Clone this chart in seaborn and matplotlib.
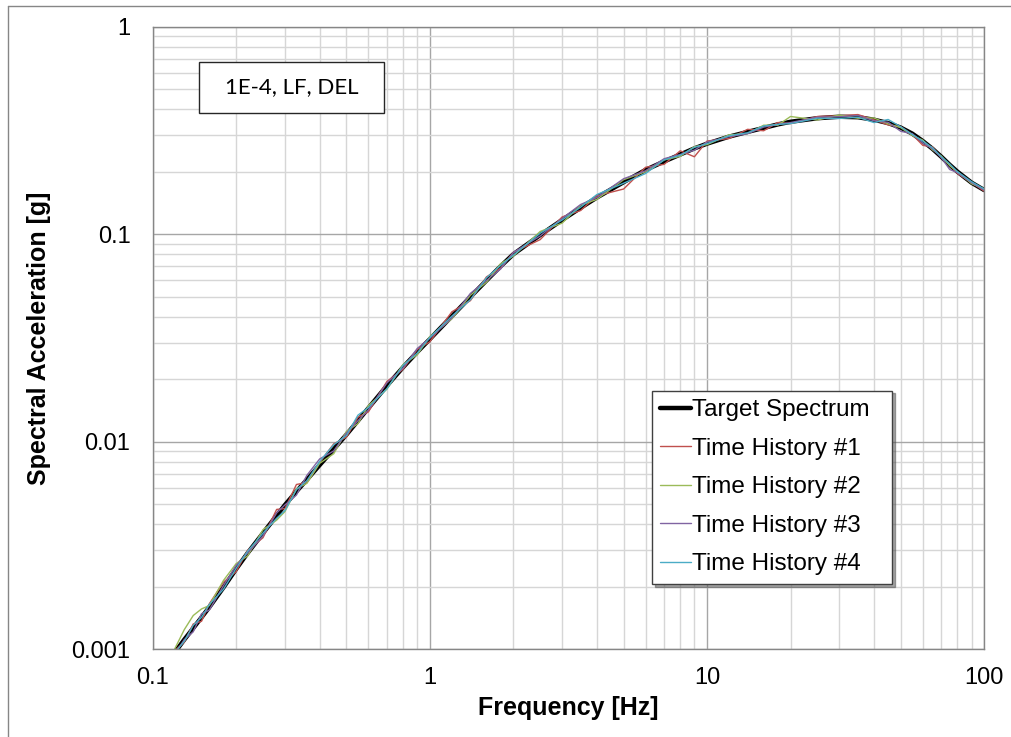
import matplotlib
matplotlib.use("Agg")
import matplotlib.pyplot as plt
import seaborn as sns
from matplotlib.lines import Line2D
from matplotlib.patches import Rectangle
from matplotlib.ticker import LogLocator, NullFormatter

# Response spectra (5% damped), frequency in Hz, spectral acceleration in g
freq = [0.12, 0.13, 0.14, 0.15, 0.16, 0.18, 0.20, 0.22, 0.25, 0.28,
        0.30, 0.33, 0.36, 0.40, 0.45, 0.50, 0.55, 0.60, 0.70, 0.80,
        0.90, 1.0, 1.2, 1.4, 1.6, 1.8, 2.0, 2.5, 3.0, 3.5,
        4.0, 5.0, 6.0, 7.0, 8.0, 9.0, 10, 12, 14, 16,
        18, 20, 25, 30, 35, 40, 45, 50, 55, 60,
        65, 70, 75, 80, 90, 100]

target = [0.00096, 0.00111, 0.00126, 0.00142, 0.00159, 0.00198, 0.00243, 0.00290, 0.00362, 0.00440,
          0.00495, 0.00575, 0.00655, 0.00770, 0.00920, 0.0108, 0.0126, 0.0145, 0.0186, 0.0228,
          0.0270, 0.0312, 0.0402, 0.0498, 0.0598, 0.0700, 0.0800, 0.0990, 0.117, 0.134,
          0.150, 0.178, 0.204, 0.224, 0.242, 0.259, 0.273, 0.295, 0.311, 0.325,
          0.338, 0.348, 0.362, 0.368, 0.366, 0.356, 0.343, 0.326, 0.305, 0.281,
          0.258, 0.236, 0.216, 0.200, 0.177, 0.163]

th1 = [0.00098, 0.00108, 0.00132, 0.00136, 0.00165, 0.00210, 0.00236, 0.00299, 0.00344, 0.00471,
       0.00475, 0.00621, 0.00635, 0.00793, 0.00975, 0.0105, 0.0131, 0.0139, 0.0195, 0.0223,
       0.0278, 0.0303, 0.0422, 0.0478, 0.0622, 0.0686, 0.0816, 0.0941, 0.121, 0.130,
       0.153, 0.165, 0.210, 0.217, 0.252, 0.236, 0.281, 0.289, 0.320, 0.315,
       0.345, 0.341, 0.369, 0.372, 0.377, 0.356, 0.336, 0.329, 0.302, 0.268,
       0.263, 0.234, 0.216, 0.196, 0.177, 0.161]

th2 = [0.00100, 0.00124, 0.00145, 0.00156, 0.00162, 0.00214, 0.00258, 0.00281, 0.00376, 0.00418,
       0.00460, 0.00592, 0.00629, 0.00785, 0.00874, 0.0112, 0.0122, 0.0149, 0.0179, 0.0235,
       0.0262, 0.0321, 0.0390, 0.0508, 0.0586, 0.0721, 0.0784, 0.103, 0.113, 0.138,
       0.147, 0.183, 0.200, 0.228, 0.237, 0.264, 0.270, 0.301, 0.305, 0.335,
       0.335, 0.369, 0.355, 0.375, 0.362, 0.363, 0.340, 0.326, 0.299, 0.284,
       0.255, 0.238, 0.214, 0.200, 0.175, 0.165]

th3 = [0.00094, 0.00111, 0.00121, 0.00148, 0.00154, 0.00202, 0.00253, 0.00290, 0.00351, 0.00453,
       0.00495, 0.00552, 0.00688, 0.00824, 0.00902, 0.0110, 0.0126, 0.0142, 0.0192, 0.0226,
       0.0281, 0.0315, 0.0394, 0.0518, 0.0598, 0.0679, 0.0816, 0.0980, 0.119, 0.139,
       0.150, 0.185, 0.202, 0.231, 0.242, 0.254, 0.278, 0.295, 0.305, 0.328,
       0.338, 0.345, 0.366, 0.368, 0.373, 0.352, 0.346, 0.313, 0.305, 0.275,
       0.258, 0.234, 0.205, 0.198, 0.177, 0.163]

th4 = [0.00096, 0.00109, 0.00130, 0.00142, 0.00164, 0.00194, 0.00245, 0.00296, 0.00362, 0.00427,
       0.00465, 0.00587, 0.00648, 0.00801, 0.00966, 0.0107, 0.0134, 0.0146, 0.0180, 0.0233,
       0.0267, 0.0318, 0.0402, 0.0483, 0.0616, 0.0707, 0.0792, 0.101, 0.117, 0.135,
       0.155, 0.176, 0.196, 0.228, 0.240, 0.262, 0.273, 0.298, 0.308, 0.332,
       0.338, 0.341, 0.362, 0.361, 0.366, 0.345, 0.357, 0.329, 0.302, 0.281,
       0.261, 0.236, 0.218, 0.200, 0.179, 0.165]

x_ticks = [0.1, 1, 10, 100]
x_tick_labels = ["0.1", "1", "10", "100"]
y_ticks = [0.001, 0.01, 0.1, 1]
y_tick_labels = ["0.001", "0.01", "0.1", "1"]

series = [
    ("Target Spectrum", target, "#000000", 3.2),
    ("Time History #1", th1, "#C0504D", 1.0),
    ("Time History #2", th2, "#9BBB59", 1.0),
    ("Time History #3", th3, "#8064A2", 1.0),
    ("Time History #4", th4, "#4BACC6", 1.0),
]

sns.set_theme(style="white")
plt.rcParams["font.family"] = ["Liberation Sans", "DejaVu Sans"]

fig = plt.figure(figsize=(10.12, 7.37), dpi=100)
ax = fig.add_axes([0.1509, 0.1194, 0.8217, 0.8444])

for name, vals, color, lw in series:
    sns.lineplot(x=freq, y=vals, ax=ax, color=color, linewidth=lw,
                 label=name, sort=False, estimator=None)

ax.set_xscale("log")
ax.set_yscale("log")
ax.set_xlim(0.1, 100)
ax.set_ylim(0.001, 1)

ax.set_xticks(x_ticks, labels=x_tick_labels)
ax.set_yticks(y_ticks, labels=y_tick_labels)
ax.xaxis.set_minor_locator(LogLocator(base=10, subs=range(2, 10)))
ax.yaxis.set_minor_locator(LogLocator(base=10, subs=range(2, 10)))
ax.xaxis.set_minor_formatter(NullFormatter())
ax.yaxis.set_minor_formatter(NullFormatter())

ax.set_axisbelow(True)
ax.grid(which="major", color="#A6A6A6", linewidth=1.0)
ax.grid(which="minor", color="#D6D6D6", linewidth=1.0)

for sp in ax.spines.values():
    sp.set_color("#868686")
    sp.set_linewidth(1.0)

ax.tick_params(which="major", direction="out", length=5, width=1,
               color="#868686", labelsize=17, labelcolor="black")
ax.tick_params(axis="y", which="major", pad=11)
ax.tick_params(axis="x", which="major", pad=8)
ax.tick_params(which="minor", length=0)

ax.set_xlabel("Frequency [Hz]", fontsize=18, fontweight="bold", color="black")
ax.set_ylabel("Spectral Acceleration [g]", fontsize=18, fontweight="bold", color="black")
ax.xaxis.set_label_coords(0.5, -0.075)
ax.yaxis.set_label_coords(-0.122, 0.5)

leg = ax.legend(loc="upper left", bbox_to_anchor=(0.6004, 0.1152, 0.2886, 0.3),
                mode="expand", borderaxespad=0, fontsize=17.5, frameon=True,
                fancybox=False, shadow=True, handlelength=1.25,
                handletextpad=0.05, borderpad=0.35, labelspacing=0.68)
leg.get_frame().set_edgecolor("#404040")
leg.get_frame().set_linewidth(1.0)
for t in leg.get_texts():
    t.set_color("black")

# Scenario label box
ax.add_patch(Rectangle((0.056, 0.8618), 0.2225, 0.0815, transform=ax.transAxes,
                       facecolor="white", edgecolor="#262626", linewidth=1.0, zorder=5))
ax.text(0.1669, 0.9023, "1E-4, LF, DEL", transform=ax.transAxes, ha="center", va="center",
        fontsize=16, family=["Lato", "DejaVu Sans"], color="black", zorder=6)

# Chart area border
fig.add_artist(Line2D([8 / 1012, 8 / 1012], [0, 1 - 6 / 737], transform=fig.transFigure,
                      color="#868686", linewidth=1.0))
fig.add_artist(Line2D([8 / 1012, 1], [1 - 6 / 737, 1 - 6 / 737], transform=fig.transFigure,
                      color="#868686", linewidth=1.0))

fig.savefig("out.png", dpi=100)
